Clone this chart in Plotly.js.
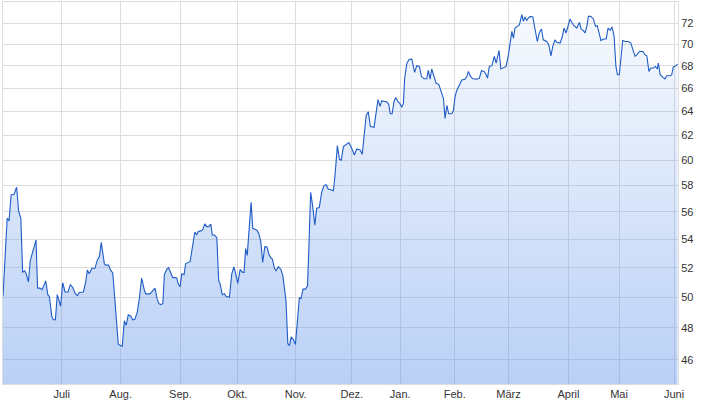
<!DOCTYPE html>
<html>
<head>
<meta charset="utf-8">
<script src="https://cdn.plot.ly/plotly-3.0.1.min.js"></script>
<style>
html,body{margin:0;padding:0;background:#fff;}
#chart{width:720px;height:415px;}
</style>
</head>
<body>
<div id="chart"></div>
<script>
// Trading-day index (0 = start of the one-year window)
const day = [0,1.6,2.3,3.1,4.2,5.2,6,6.8,7.5,8.3,8.8,9.7,10.4,11.1,12.6,13.2,14.1,14.9,16.3,17.1,17.7,18.6,19.2,20,20.7,22,22.8,23.7,24.8,25.7,26.6,27.6,28.4,29.1,30.7,31.6,32.2,32.9,33.9,35.1,36,36.8,37.5,38.7,39.3,40.3,41,41.9,
44,45.5,46.3,47,47.8,48.7,49.5,50.3,51.2,52,52.9,53.9,54.5,56.1,57.1,58,58.8,59.5,60.3,61,61.6,62.5,63.2,64,64.8,65.7,66.3,66.9,67.6,68.2,69.1,69.7,70.5,71.4,72.3,73.2,73.9,74.5,75.5,76.2,77,77.8,78.5,79.3,79.9,80.7,81.6,82.3,82.8,83.7,84.5,85.1,86.4,
87.3,88.1,88.7,89.6,90.5,91.5,92,92.6,93.2,94,94.7,95.3,96.8,97.6,98.4,99.1,99.9,100.7,101.4,102.2,102.8,103.6,104.2,105.1,106,106.8,107.5,108,108.7,109.3,110,110.8,111.6,112.3,113.1,113.7,114.5,115.4,116.2,116.7,117.4,118.2,119,119.7,120.7,121.6,122.5,123.3,124.1,125.1,126.1,
126.8,127.6,128.4,129.1,129.9,131.2,132,132.9,134.1,135,136.3,137.1,137.9,138.6,139.4,140.2,141.6,142.4,143.1,143.9,144.5,146.5,147.2,147.8,148.5,149.2,149.9,150.8,151.5,152.2,152.8,153.3,154.1,154.9,156,157.1,157.9,158.9,159.7,160.7,161.7,162.3,163,163.6,164.5,165.3,166.3,
167.1,168.1,168.7,169.4,170.1,171.3,171.9,172.5,173.2,174.2,175.1,176.3,177,177.6,178.5,179.3,180.8,181.8,182.6,183.6,184.2,184.9,185.6,186.6,187.5,188.2,188.7,189.3,190,191,192,192.9,193.5,194.2,194.8,195.4,196.3,197.1,198,198.6,199.2,199.9,200.5,201.2,202.2,203.1,203.9,204.7,205.5,206.2,207.5,208.3,209.1,209.8,210.6,211.3,212.6,213.4,214.1,214.9,215.7,216.4,217.2,217.9,219,220,
220.6,221.4,222.1,222.8,223.4,224.3,225.3,226.1,226.8,227.6,228.2,229.1,230.2,230.9,231.7,232.4,233.2,233.9,234.5,235.2,235.9,236.5,237.4,238.7,239.6,240.3,241.2,241.9,242.9,244.2,245,245.7,246.5,247.2,248.2,249,249.7,250.1,250.8,251.8,252.6,253.3,254.6,255.2,255.8,256.9,257.4];

const price = [50.06,55.54,55.34,57.29,57.34,57.87,56.02,55.54,51.68,51.79,51.61,51.03,52.49,52.93,53.95,50.61,50.61,50.5,51.1,50.17,50.03,48.77,48.52,48.52,50.17,49.42,50.97,50.35,50.35,50.84,50.67,50.24,50.11,50.32,50.35,51.08,51.85,51.59,51.96,51.96,52.54,52.78,53.78,52.25,52.18,52.18,51.85,51.64,
46.96,46.85,48.45,48.17,48.84,48.77,48.52,48.56,48.99,49.85,51.29,50.5,50.22,50.22,50.39,50.61,49.9,49.57,49.51,49.59,51.53,51.9,52.0,51.68,51.32,51.32,51.29,50.88,50.71,51.57,51.53,52.29,52.37,52.42,53.46,54.53,54.31,54.56,54.61,54.68,55.12,54.92,54.92,55.1,54.31,54.31,54.12,51.14,50.93,50.17,50.24,50.06,50.0,
51.57,52.05,51.68,50.93,51.87,51.68,51.68,53.34,52.86,54.92,56.73,54.8,54.68,54.44,53.82,52.36,53.46,53.46,52.98,52.69,52.61,51.96,51.79,52.07,51.9,51.46,50.5,49.74,47.0,46.88,47.43,47.26,46.96,48.35,49.96,49.91,50.54,50.54,50.75,53.22,57.48,56.42,55.03,56.28,56.33,57.48,58.0,58.07,57.74,57.68,57.6,
59.0,61.17,60.06,60.0,61.09,61.31,61.42,61.04,60.41,60.9,60.82,60.47,62.05,63.67,63.98,62.73,62.67,63.81,65.03,64.44,64.91,64.82,64.62,63.81,63.81,64.82,65.21,64.82,64.68,64.38,64.68,66.91,68.21,68.57,68.64,67.42,68.03,67.96,67.05,66.85,66.85,67.6,66.82,67.73,67.05,66.45,66.36,
65.8,65.12,63.41,64.53,63.81,63.81,64.09,65.26,65.85,66.3,66.75,66.82,67.05,67.51,67.05,66.85,66.82,66.91,67.57,67.51,67.3,66.91,67.96,68.03,68.88,68.27,68.73,69.42,67.73,67.87,67.96,69.03,70.25,71.2,70.57,71.52,71.68,71.84,72.81,72.15,72.58,72.25,72.48,72.64,72.58,71.36,70.25,71.1,71.43,70.41,70.25,69.94,68.93,69.78,70.41,70.19,70.1,70.67,71.52,71.05,71.74,72.39,72.0,71.74,71.52,72.06,
71.43,71.3,71.05,71.68,72.64,72.64,72.39,71.68,71.74,71.05,70.34,70.48,70.48,71.52,71.3,71.62,70.79,67.96,67.21,67.21,69.18,70.34,70.25,70.25,70.1,69.48,68.88,69.03,69.33,69.33,69.03,68.93,67.51,67.82,67.82,67.96,67.73,68.27,67.21,67.0,66.85,67.12,67.12,67.21,67.91,68.03,68.18];

// Month gridline positions (trading-day index) and labels
const monthTicks = [22.4,44.9,67.7,89.4,111.7,133.1,151.6,172.4,192.9,215.8,235.1,256.1];
const monthLabels = ["Juli","Aug.","Sep.","Okt.","Nov.","Dez.","Jan.","Feb.","März","April","Mai","Juni"];
const priceTicks = [46,48,50,52,54,56,58,60,62,64,66,68,70,72];

const trace = {
  x: day, y: price, type: 'scatter', mode: 'lines',
  line: {color: '#1f5cc6', width: 1.1},
  fill: 'tozeroy',
  fillgradient: {type: 'vertical', start: 44.5, stop: 74,
    colorscale: [[0, 'rgba(100,150,235,0.45)'], [1, 'rgba(100,150,235,0.04)']]},
  hoverinfo: 'skip'
};

const layout = {
  width: 720, height: 415,
  margin: {l: 3, r: 42, t: 2, b: 31},
  paper_bgcolor: '#fff', plot_bgcolor: '#fff',
  showlegend: false,
  font: {family: 'Liberation Sans, Arial, sans-serif', size: 11, color: '#333'},
  xaxis: {
    range: [0, 257.6], tickmode: 'array', tickvals: monthTicks, ticktext: monthLabels,
    showgrid: true, gridcolor: '#dddddd', gridwidth: 1, zeroline: false,
    showline: true, linecolor: '#dddddd', mirror: true, ticks: '',
    tickfont: {size: 11, color: '#333'}, fixedrange: true
  },
  yaxis: {
    type: 'log', side: 'right',
    range: [Math.log10(44.55), Math.log10(74.04)],
    tickmode: 'array', tickvals: priceTicks, ticktext: priceTicks.map(String),
    showgrid: true, gridcolor: '#dddddd', gridwidth: 1, zeroline: false,
    showline: true, linecolor: '#dddddd', mirror: true, ticks: '',
    tickfont: {size: 11, color: '#333'}, fixedrange: true
  }
};

Plotly.newPlot('chart', [trace], layout, {displayModeBar: false, staticPlot: true});
</script>
</body>
</html>
